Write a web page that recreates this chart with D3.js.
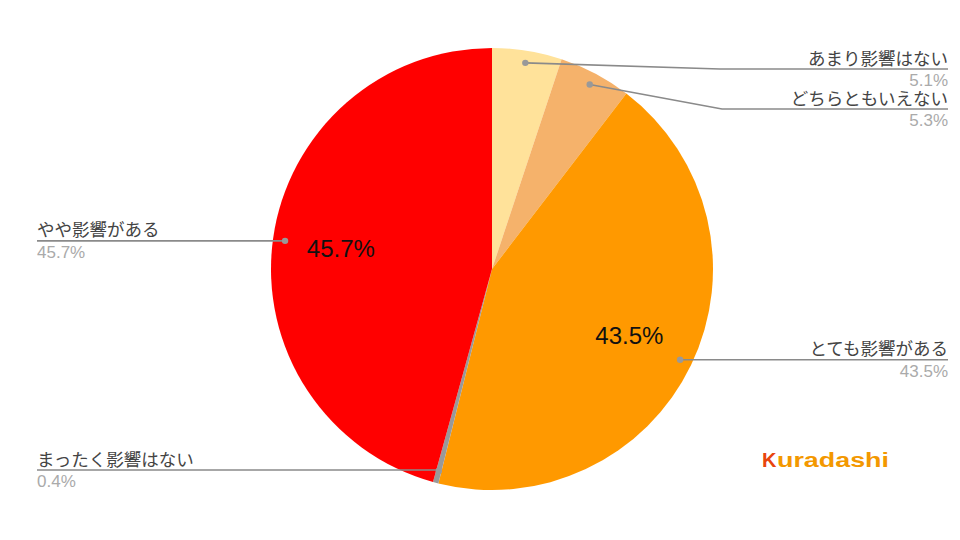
<!DOCTYPE html>
<html><head><meta charset="utf-8">
<script src="https://cdn.jsdelivr.net/npm/d3@7"></script>
<style>body{margin:0;background:#fff}svg{display:block}text{font-family:Arial,"Liberation Sans","Noto Sans CJK JP",sans-serif}</style>
</head><body>
<svg id="c" width="960" height="540"></svg>
<script>
const categories = ["あまり影響はない","どちらともいえない","とても影響がある","まったく影響はない","やや影響がある"];
const values = [5.1, 5.3, 43.5, 0.4, 45.7];
const valueLabels = ["5.1%","5.3%","43.5%","0.4%","45.7%"];
const colors = ["#FFE29A","#F5B26B","#FF9900","#999999","#FF0000"];
const data = categories.map((c,i)=>({name:c,value:values[i],label:valueLabels[i],color:colors[i]}));

const svg = d3.select("#c");
const cx = 492, cy = 269, r = 221;
const g = svg.append("g").attr("transform",`translate(${cx},${cy})`);
const pie = d3.pie().value(d=>d.value).sort(null);
const arcs = pie(data);
const arc = d3.arc().innerRadius(0).outerRadius(r);
g.selectAll("path").data(arcs).join("path").attr("d",arc).attr("fill",d=>d.data.color);

// inside labels for big slices
const inner = d3.arc().innerRadius(r*0.69).outerRadius(r*0.69);
g.selectAll("text.in").data(arcs.filter(d=>d.data.value>20)).join("text")
  .attr("class","in")
  .attr("transform",d=>`translate(${inner.centroid(d)})`)
  .attr("text-anchor","middle").attr("dy","0.35em")
  .attr("font-size",24).attr("fill","#111").text(d=>d.data.label);

// leader lines
const dotArc = d3.arc().innerRadius(r*0.945).outerRadius(r*0.945);
const layout = [
  {side:"right", elbowX:720, y:69},
  {side:"right", elbowX:722, y:109},
  {side:"right", elbowX:null, y:null},
  {side:"left", elbowX:null, y:470},
  {side:"left", elbowX:null, y:null}
];
const leftX = 37, rightX = 948;
arcs.forEach((d,i)=>{
  const [px,py] = dotArc.centroid(d);
  const ax = px+cx, ay = py+cy;
  const L = layout[i];
  const ly = L.y===null ? ay : L.y;
  const ex = L.elbowX===null ? ax : L.elbowX;
  const endX = L.side==="right" ? rightX : leftX;
  svg.append("path")
    .attr("d",`M${ax},${ay}L${ex},${ly}L${endX},${ly}`)
    .attr("fill","none").attr("stroke","#8a8a8a").attr("stroke-width",1.6);
  svg.append("circle").attr("cx",ax).attr("cy",ay).attr("r",3.2).attr("fill","#999");
  const anchor = L.side==="right" ? "end" : "start";
  svg.append("text").attr("x",endX).attr("y",ly-4.5).attr("text-anchor",anchor)
    .attr("font-size",17.5).attr("fill","#444").text(d.data.name);
  svg.append("text").attr("x",endX).attr("y",ly+17).attr("text-anchor",anchor)
    .attr("font-size",17).attr("fill","#aaa").text(d.data.label);
});

// logo
svg.append("text").attr("x",762).attr("y",467).attr("font-size",20)
  .attr("font-weight","900").attr("fill","#E8450D").text("K");
svg.append("text").attr("x",777).attr("y",467).attr("font-size",20)
  .attr("font-weight","900").attr("fill","#F39800")
  .attr("textLength",112).attr("lengthAdjust","spacingAndGlyphs").text("uradashi");
</script>
</body></html>
